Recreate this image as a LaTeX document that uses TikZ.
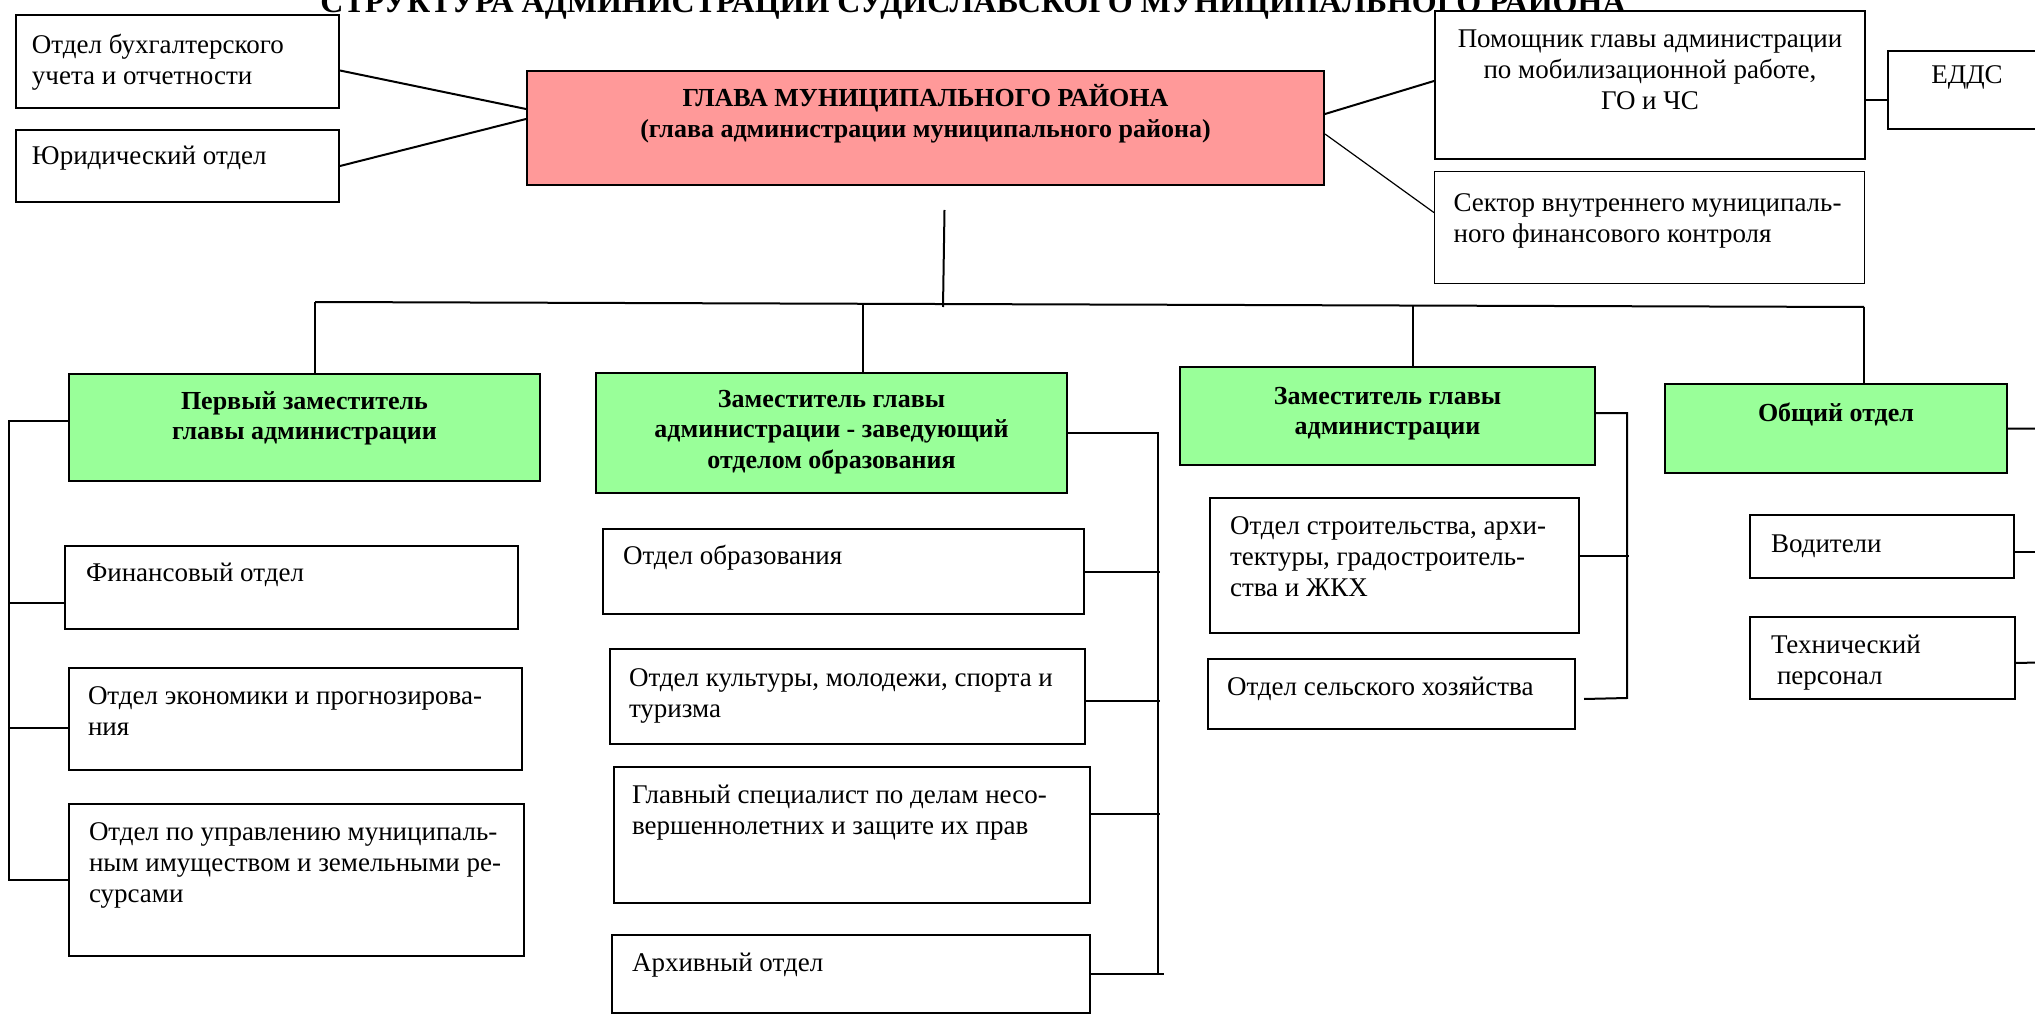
\documentclass[tikz,border=0pt]{standalone}
\usepackage{fontspec}
\setmainfont{Liberation Serif}
\usetikzlibrary{calc}

\definecolor{headpink}{HTML}{FF9999}
\definecolor{deputygreen}{HTML}{99FF99}

\newcommand{\unitfont}{\fontsize{27}{31}\selectfont}
\newcommand{\boldfont}{\fontsize{26}{30.5}\selectfont\bfseries}
\newcommand{\titlefont}{\fontsize{32}{38}\selectfont\bfseries}
% box text: width, height, left pad, first baseline, text
\newcommand{\lcell}[5]{\parbox[c][#2][t]{#1}{\raggedright\leftskip=#3\relax\rule{0pt}{#4}#5}}
\newcommand{\ccell}[4]{\parbox[c][#2][t]{#1}{\centering\rule{0pt}{#3}#4}}

\tikzset{
  unit/.style={draw, line width=2pt, fill=white, anchor=north west, inner sep=0pt, font=\unitfont},
  deputy/.style={unit, fill=deputygreen, font=\boldfont},
  link/.style={line width=2pt},
}

\begin{document}
\begin{tikzpicture}[x=1pt, y=-1pt]
    \fill[white] (0,0) rectangle (2035,1016);
    \useasboundingbox (0,0) rectangle (2035,1016);
    % title
    \node[font=\titlefont, anchor=base] (title) at (973,13) {СТРУКТУРА АДМИНИСТРАЦИИ СУДИСЛАВСКОГО МУНИЦИПАЛЬНОГО РАЙОНА};
    % head
    \node[unit, fill=headpink, font=\boldfont] (glava) at (526,70)
      {\ccell{797pt}{114pt}{36pt}{ГЛАВА МУНИЦИПАЛЬНОГО РАЙОНА\\(глава администрации муниципального района)}};
    \node[unit] (buh) at (15,14) {\lcell{323pt}{93pt}{16pt}{39pt}{Отдел бухгалтерского\\учета и отчетности}};
    \node[unit] (jur) at (15,129) {\lcell{323pt}{72pt}{16pt}{35pt}{Юридический отдел}};
    \node[unit] (pom) at (1434,10) {\ccell{430pt}{148pt}{37pt}{Помощник главы администрации\\по мобилизационной работе,\\ГО и ЧС}};
    \node[unit] (edds) at (1887,50) {\ccell{158pt}{78pt}{33pt}{ЕДДС}};
    \node[unit, line width=1.2pt] (sektor) at (1434,171) {\lcell{430pt}{112pt}{19pt}{40pt}{Сектор внутреннего муниципаль-\\ного финансового контроля}};
    \draw[link] ([yshift=-9pt]buh.east) -- ([yshift=19pt]glava.west);
    \draw[link] (jur.east) -- ([yshift=9pt]glava.west);
    \draw[link] ([yshift=14pt]glava.east) -- ([yshift=4pt]pom.west);
    \draw[line width=1.2pt] ([yshift=-6pt]glava.east) -- ([yshift=15pt]sektor.west);
    \draw[link] ([yshift=-15pt]pom.east) -- ([yshift=-10pt]edds.west);
    % deputies
    \node[deputy] (zam1) at (68,373) {\ccell{471pt}{107pt}{35pt}{Первый заместитель\\главы администрации}};
    \node[deputy] (zam2) at (595,372) {\ccell{471pt}{120pt}{34pt}{Заместитель главы\\администрации - заведующий\\отделом образования}};
    \node[deputy] (zam3) at (1179,366) {\ccell{415pt}{98pt}{37pt}{Заместитель главы\\администрации}};
    \node[deputy] (obsh) at (1664,383) {\ccell{342pt}{89pt}{37pt}{Общий отдел}};
    % bus
    \coordinate (b1) at (315,302);
    \coordinate (b2) at (863,303.8);
    \coordinate (b0) at (943,304);
    \coordinate (b3) at (1413,305.5);
    \coordinate (b4) at (1864,307);
    \draw[link] (b1) -- (b4);
    \draw[link] ([xshift=19pt,yshift=-24pt]glava.south) -- ([yshift=-3pt]b0);
    \draw[link] (b1) -- (b1 |- zam1.north);
    \draw[link] (b2) -- (b2 |- zam2.north);
    \draw[link] (b3) -- (b3 |- zam3.north);
    \draw[link] (b4) -- (b4 |- obsh.north);
    % first deputy
    \node[unit] (fin) at (64,545) {\lcell{453pt}{83pt}{21pt}{35pt}{Финансовый отдел}};
    \node[unit] (econ) at (68,667) {\lcell{453pt}{102pt}{19pt}{36pt}{Отдел экономики и прогнозирова-\\ния}};
    \node[unit] (imush) at (68,803) {\lcell{455pt}{152pt}{20pt}{36pt}{Отдел по управлению муниципаль-\\ным имуществом и земельными ре-\\сурсами}};
    \coordinate (s1) at (9,880);
    \draw[link] ([yshift=6.5pt]zam1.west) -| (s1) -- (imush.west);
    \draw[link] ([yshift=-15.5pt]fin.west) -- ++(-56,0);
    \draw[link] ([yshift=-9pt]econ.west) -- ++(-59,0);
    % education
    \node[unit] (obr) at (602,528) {\lcell{481pt}{85pt}{20pt}{35pt}{Отдел образования}};
    \node[unit] (kult) at (609,648) {\lcell{475pt}{95pt}{19pt}{37pt}{Отдел культуры, молодежи, спорта и\\туризма}};
    \node[unit] (glavspec) at (613,766) {\lcell{476pt}{136pt}{18pt}{36pt}{Главный специалист по делам несо-\\вершеннолетних и защите их прав}};
    \node[unit] (arkh) at (611,934) {\lcell{478pt}{78pt}{20pt}{36pt}{Архивный отдел}};
    \coordinate (s2) at (1158,974);
    \draw[link] (zam2.east) -| (s2);
    \draw[link] (obr.east) -- ++(75,0);
    \draw[link] ([yshift=-4.5pt]kult.east) -- ++(74,0);
    \draw[link] ([yshift=21pt]glavspec.east) -- ++(69,0);
    \draw[link] (arkh.east) -- ++(73,0);
    % deputy
    \node[unit] (stroi) at (1209,497) {\lcell{369pt}{135pt}{20pt}{36pt}{Отдел строительства, архи-\\тектуры, градостроитель-\\ства и ЖКХ}};
    \node[unit] (selsk) at (1207,658) {\lcell{367pt}{70pt}{19pt}{36pt}{Отдел сельского хозяйства}};
    \coordinate (s3) at (1627,698);
    \draw[link] ([yshift=3pt]zam3.east) -| (s3) -- ([xshift=8pt,yshift=-5pt]selsk.east);
    \draw[link] ([yshift=9.5pt]stroi.east) -- ++(49,0);
    % general
    \node[unit] (vod) at (1749,514) {\lcell{264pt}{63pt}{21pt}{37pt}{Водители}};
    \node[unit] (tech) at (1749,616) {\lcell{265pt}{82pt}{21pt}{36pt}{Технический\\\hspace*{6pt}персонал}};
    \coordinate (s4) at (2060,662);
    \draw[link] (obsh.east) -| (s4) -- ([yshift=-5pt]tech.east);
    \draw[link] ([yshift=-5.5pt]vod.east) -- ++(60,0);
  \end{tikzpicture}
\end{document}
